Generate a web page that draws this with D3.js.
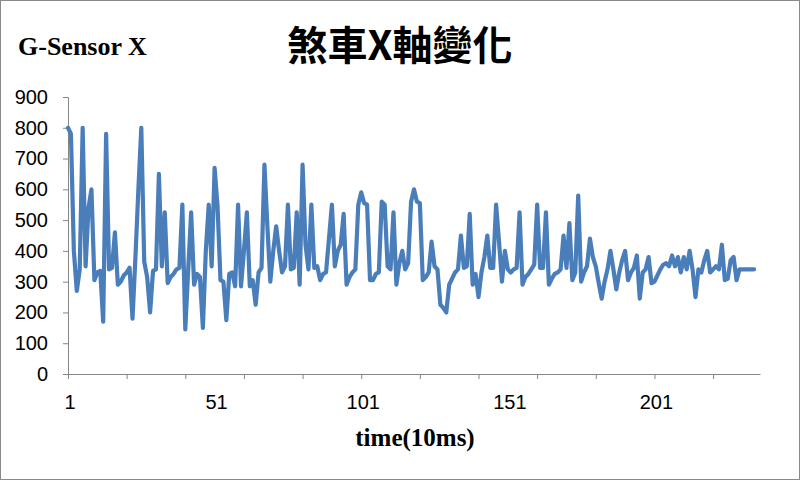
<!DOCTYPE html>
<html><head><meta charset="utf-8">
<script src="https://cdn.jsdelivr.net/npm/d3@7"></script>
<style>
html,body{margin:0;padding:0;background:#fff;}
svg{display:block;}
</style></head>
<body>
<svg id="chart" width="800" height="480"></svg>
<script>
// ---- data ----
const chartTitle = "煞車X軸變化";
const seriesName = "G-Sensor X";
const xAxisTitle = "time(10ms)";
const categoryCount = 237;
const xTickLabels = [1, 51, 101, 151, 201];
const yTickValues = [0, 100, 200, 300, 400, 500, 600, 700, 800, 900];
const gSensorX = [
  800,780,400,270,340,800,350,540,600,305,
  330,335,170,780,340,345,460,290,300,320,
  330,345,180,380,600,800,365,315,200,335,
  340,650,350,525,295,315,325,340,345,550,
  145,340,525,290,325,315,150,400,550,350,
  670,545,305,300,175,325,330,285,550,285,
  400,525,285,305,225,330,345,680,480,300,
  400,480,400,330,350,550,340,345,525,290,
  680,420,340,550,345,350,305,325,330,440,
  550,350,400,420,520,290,315,330,340,550,
  590,555,550,305,305,325,330,560,550,350,
  340,525,290,360,400,340,360,560,600,560,
  555,305,315,330,430,350,340,225,215,200,
  290,310,330,340,450,345,350,520,290,325,
  250,330,380,450,345,345,550,430,300,400,
  340,330,340,345,525,290,315,325,340,355,
  550,345,345,525,290,310,325,330,340,450,
  345,490,305,330,580,300,330,350,440,380,
  350,295,245,300,340,400,340,275,330,370,
  400,305,330,345,385,245,330,340,380,295,
  300,320,340,355,360,350,385,350,380,330,
  380,340,400,340,250,340,330,370,400,330,
  340,350,340,420,305,310,370,380,305,340,
  340,340,340,340,340
];

// ---- chart ----
const svg = d3.select("#chart");
const axisColor = "#868686";

svg.append("rect").attr("x",0.5).attr("y",0.5).attr("width",799).attr("height",479)
  .attr("fill","#fff").attr("stroke","#8a8a8a").attr("stroke-width",1);

const x = d3.scaleLinear().domain([1, categoryCount]).range([68, 760]);
const y = d3.scaleLinear().domain([0, 900]).range([374, 97]);

// y axis
const yAxis = d3.axisLeft(y).tickValues(yTickValues).tickSize(5).tickPadding(10);
const gy = svg.append("g").attr("transform","translate(68,0)").call(yAxis);
gy.select(".domain").attr("stroke",axisColor);
gy.selectAll(".tick line").attr("stroke",axisColor);
gy.selectAll(".tick text").attr("font-family","'Liberation Sans', Arial, sans-serif")
  .attr("font-size",20).attr("fill","#000").attr("dx",-5);

// x axis
const xTicks = d3.range(1, categoryCount, 20);
const xAxis = d3.axisBottom(x).tickValues(xTicks).tickSize(5).tickFormat("").tickSizeOuter(0);
const gx = svg.append("g").attr("transform","translate(0,374)").call(xAxis);
gx.select(".domain").attr("stroke",axisColor);
gx.selectAll(".tick line").attr("stroke",axisColor);

svg.append("g").selectAll("text").data(xTickLabels).join("text")
  .attr("x", d => x(d) + 2).attr("y", 409)
  .attr("text-anchor","middle")
  .attr("font-family","'Liberation Sans', Arial, sans-serif")
  .attr("font-size",20).attr("fill","#000")
  .text(d => d);

// line
const line = d3.line().x((d,i) => x(i+1)).y(d => y(d));
svg.append("path").datum(gSensorX)
  .attr("d", line)
  .attr("fill","none").attr("stroke","#4a7ebb").attr("stroke-width",4.2)
  .attr("stroke-linejoin","round").attr("stroke-linecap","round");

// titles
svg.append("text").attr("x",400).attr("y",60).attr("text-anchor","middle")
  .attr("font-family","'Noto Sans CJK TC', 'Noto Sans CJK SC', serif")
  .attr("font-weight",700).attr("font-size",40).attr("fill","#000")
  .text(chartTitle);

svg.append("text").attr("x",18).attr("y",55)
  .attr("font-family","'Liberation Serif', 'Times New Roman', serif")
  .attr("font-weight",700).attr("font-size",26).attr("fill","#000")
  .text(seriesName);

svg.append("text").attr("x",415).attr("y",446).attr("text-anchor","middle")
  .attr("font-family","'Liberation Serif', 'Times New Roman', serif")
  .attr("font-weight",700).attr("font-size",25).attr("fill","#000")
  .text(xAxisTitle);
</script>
</body></html>
